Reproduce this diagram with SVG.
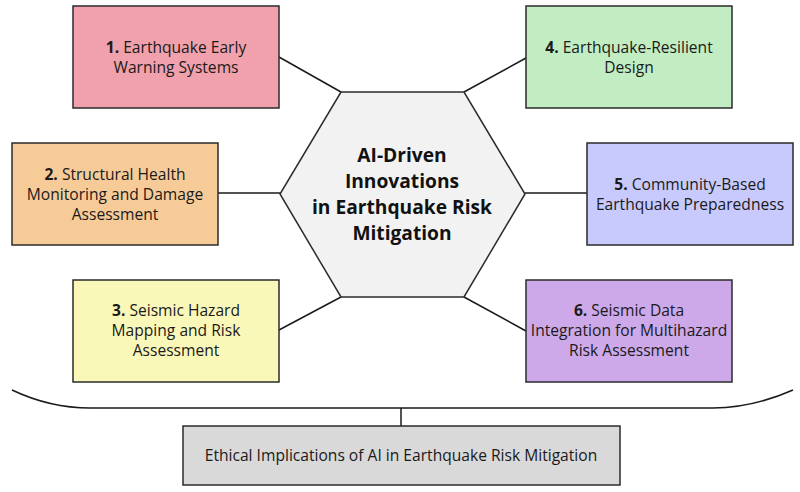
<svg xmlns="http://www.w3.org/2000/svg" width="800" height="492" viewBox="0 0 800 492">
<style>
.box{stroke:#2b2b2b;stroke-width:1.5}
.t{font-family:"Open Sans","Liberation Sans",sans-serif;font-size:15.6px;fill:#1a1a1a;text-anchor:middle}
.b{font-weight:bold}
.h{font-family:"Open Sans","Liberation Sans",sans-serif;font-size:19.2px;font-weight:bold;fill:#111;text-anchor:middle}
.c{stroke:#1a1a1a;stroke-width:1.5;fill:none}
</style>
<rect width="800" height="492" fill="#ffffff"/>
<g id="connectors">
<line class="c" x1="279" y1="57" x2="341" y2="92"/>
<line class="c" x1="218" y1="193" x2="280" y2="193"/>
<line class="c" x1="279" y1="330" x2="341" y2="297"/>
<line class="c" x1="526" y1="58" x2="464" y2="92"/>
<line class="c" x1="587" y1="193" x2="525" y2="193"/>
<line class="c" x1="526" y1="331" x2="464" y2="297"/>
<path class="c" d="M12,390 Q50,408 90,408 L713,408 Q752,408 793,390"/>
<line class="c" x1="401" y1="408" x2="401" y2="426"/>
</g>
<g id="hub">
<polygon class="box" fill="#F2F2F2" points="341,92 464,92 525,194 464,297 341,297 280,194"/>
<text class="h" x="402" y="162">AI-Driven</text>
<text class="h" x="402" y="188">Innovations</text>
<text class="h" x="402" y="214">in Earthquake Risk</text>
<text class="h" x="402" y="240">Mitigation</text>
</g>
<g id="n1">
<rect class="box" x="73" y="6" width="206" height="102" fill="#F1A1AB"/>
<text class="t" x="176" y="53"><tspan class="b">1.</tspan> Earthquake Early</text>
<text class="t" x="176" y="73">Warning Systems</text>
</g>
<g id="n2">
<rect class="box" x="12" y="143" width="206" height="102" fill="#F7CB98"/>
<text class="t" x="115" y="180"><tspan class="b">2.</tspan> Structural Health</text>
<text class="t" x="115" y="200">Monitoring and Damage</text>
<text class="t" x="115" y="220">Assessment</text>
</g>
<g id="n3">
<rect class="box" x="73" y="280" width="206" height="102" fill="#FAF8B9"/>
<text class="t" x="176" y="316"><tspan class="b">3.</tspan> Seismic Hazard</text>
<text class="t" x="176" y="336">Mapping and Risk</text>
<text class="t" x="176" y="356">Assessment</text>
</g>
<g id="n4">
<rect class="box" x="526" y="6" width="206" height="102" fill="#C2EDC3"/>
<text class="t" x="629" y="53"><tspan class="b">4.</tspan> Earthquake-Resilient</text>
<text class="t" x="629" y="73">Design</text>
</g>
<g id="n5">
<rect class="box" x="587" y="143" width="206" height="102" fill="#C8C9FC"/>
<text class="t" x="690" y="190"><tspan class="b">5.</tspan> Community-Based</text>
<text class="t" x="690" y="210">Earthquake Preparedness</text>
</g>
<g id="n6">
<rect class="box" x="526" y="280" width="206" height="102" fill="#CDA9EA"/>
<text class="t" x="629" y="316"><tspan class="b">6.</tspan> Seismic Data</text>
<text class="t" x="629" y="336">Integration for Multihazard</text>
<text class="t" x="629" y="356">Risk Assessment</text>
</g>
<g id="n7">
<rect class="box" x="183" y="426" width="437" height="59" fill="#D9D9D9"/>
<text class="t" x="401" y="461">Ethical Implications of AI in Earthquake Risk Mitigation</text>
</g>
</svg>
